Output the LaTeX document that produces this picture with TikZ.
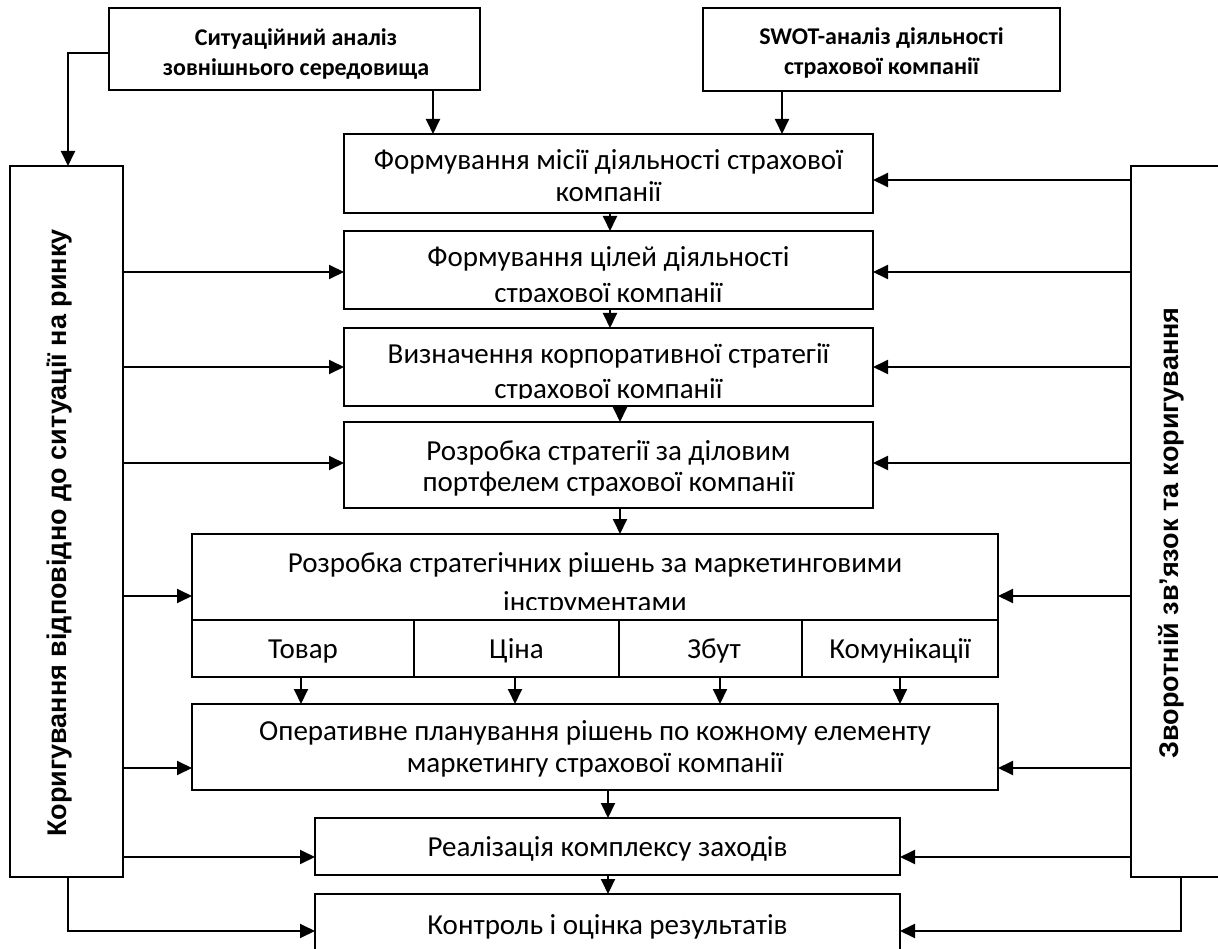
\documentclass[tikz,border=0pt]{standalone}
\usepackage{fontspec}
\setmainfont{Carlito}
\newfontfamily\sidefont{Liberation Sans}
\usetikzlibrary{arrows.meta}
\begin{document}
\begin{tikzpicture}[x=1pt,y=-1pt,
  lw/.style={line width=1.9pt},
  box/.style={draw, lw, inner sep=0pt, outer sep=0pt},
  txt/.style={inner sep=0pt, outer sep=0pt, anchor=base, font=\fontsize{29}{32}\selectfont},
  btxt/.style={inner sep=0pt, outer sep=0pt, anchor=base, font=\fontsize{24}{30}\selectfont\bfseries},
  side/.style={inner sep=0pt, outer sep=0pt, anchor=base, rotate=90, font={\sidefont\fontsize{27}{30}\selectfont\bfseries}},
  arr/.style={lw, -{Triangle[length=15pt,width=14pt]}}]
\useasboundingbox (0,0) rectangle (1218,949);
\clip (0,0) rectangle (1218,949);

% boxes
\node[box, minimum width=371pt, minimum height=82pt] (sa) at (294.5,49) {};
\node[box, minimum width=357pt, minimum height=83pt] (swot) at (881.5,49.5) {};
\node[box, minimum width=529pt, minimum height=79pt] (b1) at (608.5,173.5) {};
\node[box, minimum width=529pt, minimum height=78pt] (b2) at (608.5,270) {};
\node[box, minimum width=529pt, minimum height=78pt] (b3) at (608.5,367) {};
\node[box, minimum width=529pt, minimum height=86pt] (b4) at (608.5,465) {};
\node[box, minimum width=806pt, minimum height=86pt] (b5) at (595,577) {};
\node[box, minimum width=222pt, minimum height=57pt] (c1) at (303,648.5) {};
\node[box, minimum width=205pt, minimum height=57pt] (c2) at (516.5,648.5) {};
\node[box, minimum width=183pt, minimum height=57pt] (c3) at (710.5,648.5) {};
\node[box, minimum width=196pt, minimum height=57pt] (c4) at (900,648.5) {};
\node[box, minimum width=806pt, minimum height=86pt] (ops) at (595,747) {};
\node[box, minimum width=585pt, minimum height=57pt] (real) at (607.5,846.5) {};
\node[box, minimum width=585pt, minimum height=70pt] (ctrl) at (607.5,929) {};
\node[box, minimum width=113pt, minimum height=711pt] (left) at (66.5,521.5) {};
\node[box, minimum width=110pt, minimum height=711pt] (right) at (1186,521.5) {};

% texts
\node[btxt] (sa1) at (296,46) {Ситуаційний аналіз};
\node[btxt] (sa2) at (296,76) {зовнішнього середовища};
\node[btxt] (sw1) at (881.5,45) {SWOT-аналіз діяльності};
\node[btxt] (sw2) at (881.5,75) {страхової компанії};
\node[txt] (b1a) at (608.5,170) {Формування місії діяльності страхової};
\node[txt] (b1b) at (608.5,202) {компанії};
\node[txt] (b2a) at (608.5,267) {Формування цілей діяльності};
\begin{scope}
\clip ([yshift=7pt]b2.south west) rectangle (b2.north east);
\node[txt] (b2b) at (608.5,303) {страхової компанії};
\end{scope}
\node[txt] (b3a) at (608.5,363) {Визначення корпоративної стратегії};
\begin{scope}
\clip ([yshift=7pt]b3.south west) rectangle (b3.north east);
\node[txt] (b3b) at (608.5,399) {страхової компанії};
\end{scope}
\node[txt] (b4a) at (608.5,460) {Розробка стратегії за діловим};
\node[txt] (b4b) at (608.5,491) {портфелем страхової компанії};
\node[txt] (b5a) at (595,572) {Розробка стратегічних рішень за маркетинговими};
\begin{scope}
\clip ([yshift=11pt]b5.south west) rectangle (b5.north east);
\node[txt] (b5b) at (595,611) {інструментами};
\end{scope}
\node[txt] (c1t) at (303,658) {Товар};
\node[txt] (c2t) at (516.5,658) {Ціна};
\node[txt] (c3t) at (714,658) {Збут};
\node[txt] (c4t) at (900,658) {Комунікації};
\node[txt] (opsa) at (595,740) {Оперативне планування рішень по кожному елементу};
\node[txt] (opsb) at (595,772) {маркетингу страхової компанії};
\node[txt] (realt) at (607.5,856) {Реалізація комплексу заходів};
\node[txt] (ctrlt) at (607.5,934) {Контроль і оцінка результатів};
\node[side] (leftt) at (66,533) {Коригування відповідно до ситуації на ринку};
\node[side] (rightt) at (1178,533) {Зворотній зв’язок та коригування};

% top connectors
\draw[arr] ([yshift=-4pt]sa.west) -| ([xshift=1.5pt]left.north);
\draw[arr] ([xshift=138.5pt]sa.south) -- ([xshift=138.5pt]sa.south |- b1.north);
\draw[arr] ([xshift=-99.5pt]swot.south) -- ([xshift=-99.5pt]swot.south |- b1.north);

% main chain
\draw[arr] ([xshift=1.5pt]b1.south) -- ([xshift=1.5pt]b2.north);
\draw[arr] ([xshift=1.5pt]b2.south) -- ([xshift=1.5pt]b3.north);
\draw[arr] ([xshift=11.5pt]b3.south) -- ([xshift=11.5pt]b4.north);
\draw[arr] ([xshift=11.5pt]b4.south) -- ([xshift=11.5pt]b4.south |- b5.north);
\draw[arr] ([xshift=-2pt]c1.south) -- ([xshift=-2pt]c1.south |- ops.north);
\draw[arr] ([xshift=-1.5pt]c2.south) -- ([xshift=-1.5pt]c2.south |- ops.north);
\draw[arr] ([xshift=9.5pt]c3.south) -- ([xshift=9.5pt]c3.south |- ops.north);
\draw[arr] (c4.south) -- (c4.south |- ops.north);
\draw[arr] ([xshift=13pt]ops.south) -- ([xshift=13pt]ops.south |- real.north);
\draw[arr] ([xshift=0.5pt]real.south) -- ([xshift=0.5pt]ctrl.north);

% left feedback arrows
\draw[arr] ([yshift=-2pt]b2.west -| left.east) -- ([yshift=-2pt]b2.west);
\draw[arr] (b3.west -| left.east) -- (b3.west);
\draw[arr] ([yshift=2pt]b4.west -| left.east) -- ([yshift=2pt]b4.west);
\draw[arr] ([yshift=-19pt]b5.west -| left.east) -- ([yshift=-19pt]b5.west);
\draw[arr] ([yshift=-21pt]ops.west -| left.east) -- ([yshift=-21pt]ops.west);
\draw[arr] ([yshift=-10.5pt]real.west -| left.east) -- ([yshift=-10.5pt]real.west);
\draw[arr] ([xshift=1.5pt]left.south) |- ([yshift=-2pt]ctrl.west);

% right feedback arrows
\draw[arr] ([yshift=-6.5pt]b1.east -| right.west) -- ([yshift=-6.5pt]b1.east);
\draw[arr] ([yshift=-2pt]b2.east -| right.west) -- ([yshift=-2pt]b2.east);
\draw[arr] (b3.east -| right.west) -- (b3.east);
\draw[arr] ([yshift=2pt]b4.east -| right.west) -- ([yshift=2pt]b4.east);
\draw[arr] ([yshift=-19pt]b5.east -| right.west) -- ([yshift=-19pt]b5.east);
\draw[arr] ([yshift=-21pt]ops.east -| right.west) -- ([yshift=-21pt]ops.east);
\draw[arr] ([yshift=-10.5pt]real.east -| right.west) -- ([yshift=-10.5pt]real.east);
\draw[arr] ([xshift=-5pt]right.south) |- ([yshift=-2pt]ctrl.east);
\end{tikzpicture}
\end{document}
